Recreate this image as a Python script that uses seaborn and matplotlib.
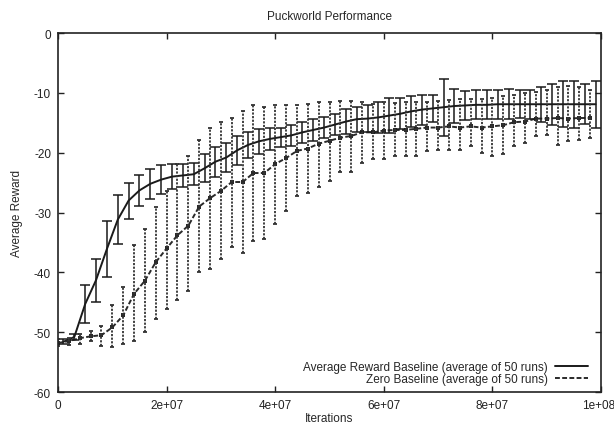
import numpy as np
import pandas as pd
import matplotlib
matplotlib.use("Agg")
import matplotlib.pyplot as plt
import matplotlib.transforms as mtransforms
import seaborn as sns

# average reward baseline, points at odd millions
iters_avg = np.arange(1, 100, 2) * 1e6
reward_avg = [-51.6, -50.8, -45.3, -41.3, -36.1, -31.2, -28.0, -26.3, -25.2, -24.5,
              -24.0, -23.8, -23.6, -22.6, -21.5, -20.8, -19.6, -18.7, -18.1, -17.7,
              -17.4, -17.1, -16.6, -16.2, -15.8, -15.3, -14.8, -14.4, -14.3, -14.1,
              -13.8, -13.5, -13.1, -12.8, -12.6, -12.4, -12.2, -12.1, -12.0, -12.0,
              -11.9, -11.9, -11.9, -11.9, -11.9, -11.9, -11.9, -11.9, -11.9, -11.9]
err_avg = [0.4, 0.5, 3.2, 3.6, 4.7, 4.1, 3.0, 2.6, 2.5, 2.4,
           2.1, 1.9, 1.8, 2.3, 2.5, 2.4, 2.4, 2.2, 2.1, 1.8,
           1.6, 1.7, 1.7, 1.8, 1.7, 1.8, 2.1, 2.1, 2.2, 2.6,
           2.9, 2.6, 2.6, 2.5, 2.3, 4.8, 2.8, 2.4, 2.4, 2.4,
           2.4, 2.5, 2.3, 2.4, 2.9, 3.4, 3.8, 3.9, 3.3, 3.9]

# zero baseline, points at even millions
iters_zero = np.arange(0, 100, 2) * 1e6
reward_zero = [-51.8, -51.5, -51.0, -50.7, -50.5, -49.2, -47.2, -43.6, -41.4, -38.3,
               -36.0, -33.8, -32.2, -29.0, -27.6, -26.4, -24.9, -24.9, -23.4, -23.4,
               -21.9, -20.9, -19.7, -19.3, -18.5, -18.0, -17.5, -17.2, -16.6, -16.6,
               -16.3, -16.2, -16.2, -16.0, -15.8, -15.8, -15.6, -15.8, -15.6, -15.8,
               -15.6, -15.4, -14.9, -14.8, -14.3, -14.3, -14.2, -14.3, -14.2, -14.2]
low_zero = [-52.3, -52.2, -52.0, -51.5, -52.3, -52.5, -52.0, -51.4, -50.0, -47.8,
            -46.1, -44.7, -43.1, -39.9, -39.4, -37.8, -35.8, -36.7, -34.7, -34.4,
            -31.9, -29.8, -27.2, -26.7, -25.7, -24.7, -23.2, -23.2, -21.8, -21.0,
            -21.0, -20.5, -20.5, -20.5, -19.8, -19.5, -19.6, -19.6, -18.9, -20.0,
            -20.5, -20.3, -18.8, -18.4, -17.2, -17.0, -18.7, -18.1, -17.8, -17.6]
high_zero = [-51.2, -50.9, -50.3, -49.8, -48.9, -45.4, -42.5, -35.5, -32.7, -29.1,
             -26.4, -21.9, -20.5, -17.8, -15.8, -14.9, -14.2, -13.1, -12.1, -12.3,
             -12.0, -12.1, -12.1, -11.8, -11.6, -11.5, -11.4, -11.3, -11.6, -11.8,
             -11.6, -11.7, -11.6, -11.5, -11.5, -11.3, -11.2, -11.0, -11.0, -11.0,
             -10.8, -10.5, -10.3, -10.0, -9.8, -9.5, -9.0, -8.8, -9.0, -9.5]

label_avg = "Average Reward Baseline (average of 50 runs)"
label_zero = "Zero Baseline (average of 50 runs)"

sns.set_style("ticks")
plt.rcParams['font.family'] = ['Liberation Sans', 'DejaVu Sans']
plt.rcParams['axes.unicode_minus'] = False

fig = plt.figure(figsize=(6.14, 4.27), dpi=100)
ax = fig.add_axes([0.0945, 0.0796, 0.8843, 0.8407])

df_avg = pd.DataFrame({"it": iters_avg, "r": reward_avg})
df_zero = pd.DataFrame({"it": iters_zero, "r": reward_zero})

sns.lineplot(data=df_avg, x="it", y="r", ax=ax, color="#1a1a1a", lw=1.4,
             label=label_avg)
sns.lineplot(data=df_zero, x="it", y="r", ax=ax, color="#2a2a2a", lw=1.4,
             linestyle=(0, (2.5, 1.2)), marker="s", markersize=3, mew=0,
             label=label_zero)

ax.errorbar(iters_avg, reward_avg, yerr=err_avg, fmt="none", ecolor="#1a1a1a",
            elinewidth=1.1, capsize=3.5, capthick=1.1)
yerr_zero = [np.array(reward_zero) - np.array(low_zero),
             np.array(high_zero) - np.array(reward_zero)]
eb = ax.errorbar(iters_zero, reward_zero, yerr=yerr_zero, fmt="none",
                 ecolor="#333333", elinewidth=1.3, capsize=1.5, capthick=1.3)
for c in eb[2]:
    c.set_linestyle((0, (1.2, 0.8)))

ax.set_xlim(0, 1e8)
ax.set_ylim(-60, 0)
ax.set_xticks(np.arange(0, 1.01e8, 2e7))
ax.set_xticklabels(["0", "2e+07", "4e+07", "6e+07", "8e+07", "1e+08"])
ax.set_yticks(np.arange(-60, 1, 10))
ax.tick_params(direction="in", top=True, right=True, length=4, width=1,
               labelsize=8.5, pad=5, colors="#222222")
for s in ax.spines.values():
    s.set_linewidth(1.2)
    s.set_color("#222222")

# keep last x label inside the canvas
last = ax.get_xticklabels()[-1]
last.set_ha("right")
last.set_transform(last.get_transform() +
                   mtransforms.ScaledTranslation(10 / 72, 0, fig.dpi_scale_trans))

ax.set_title("Puckworld Performance", fontsize=8.5, pad=10)
ax.set_xlabel("Iterations", fontsize=8.5, labelpad=1)
ax.set_ylabel("Average Reward", fontsize=8.5, labelpad=8)

ax.legend(loc="lower right", frameon=False, fontsize=8.5, markerfirst=False,
          handlelength=2.8, labelspacing=0.05, borderaxespad=0.0,
          handletextpad=0.6, bbox_to_anchor=(0.985, 0.005))
leg = ax.get_legend()
leg._legend_box.align = "right"
for h in leg.legend_handles:
    h.set_marker("")

fig.savefig("out.png", dpi=100, facecolor="white")
